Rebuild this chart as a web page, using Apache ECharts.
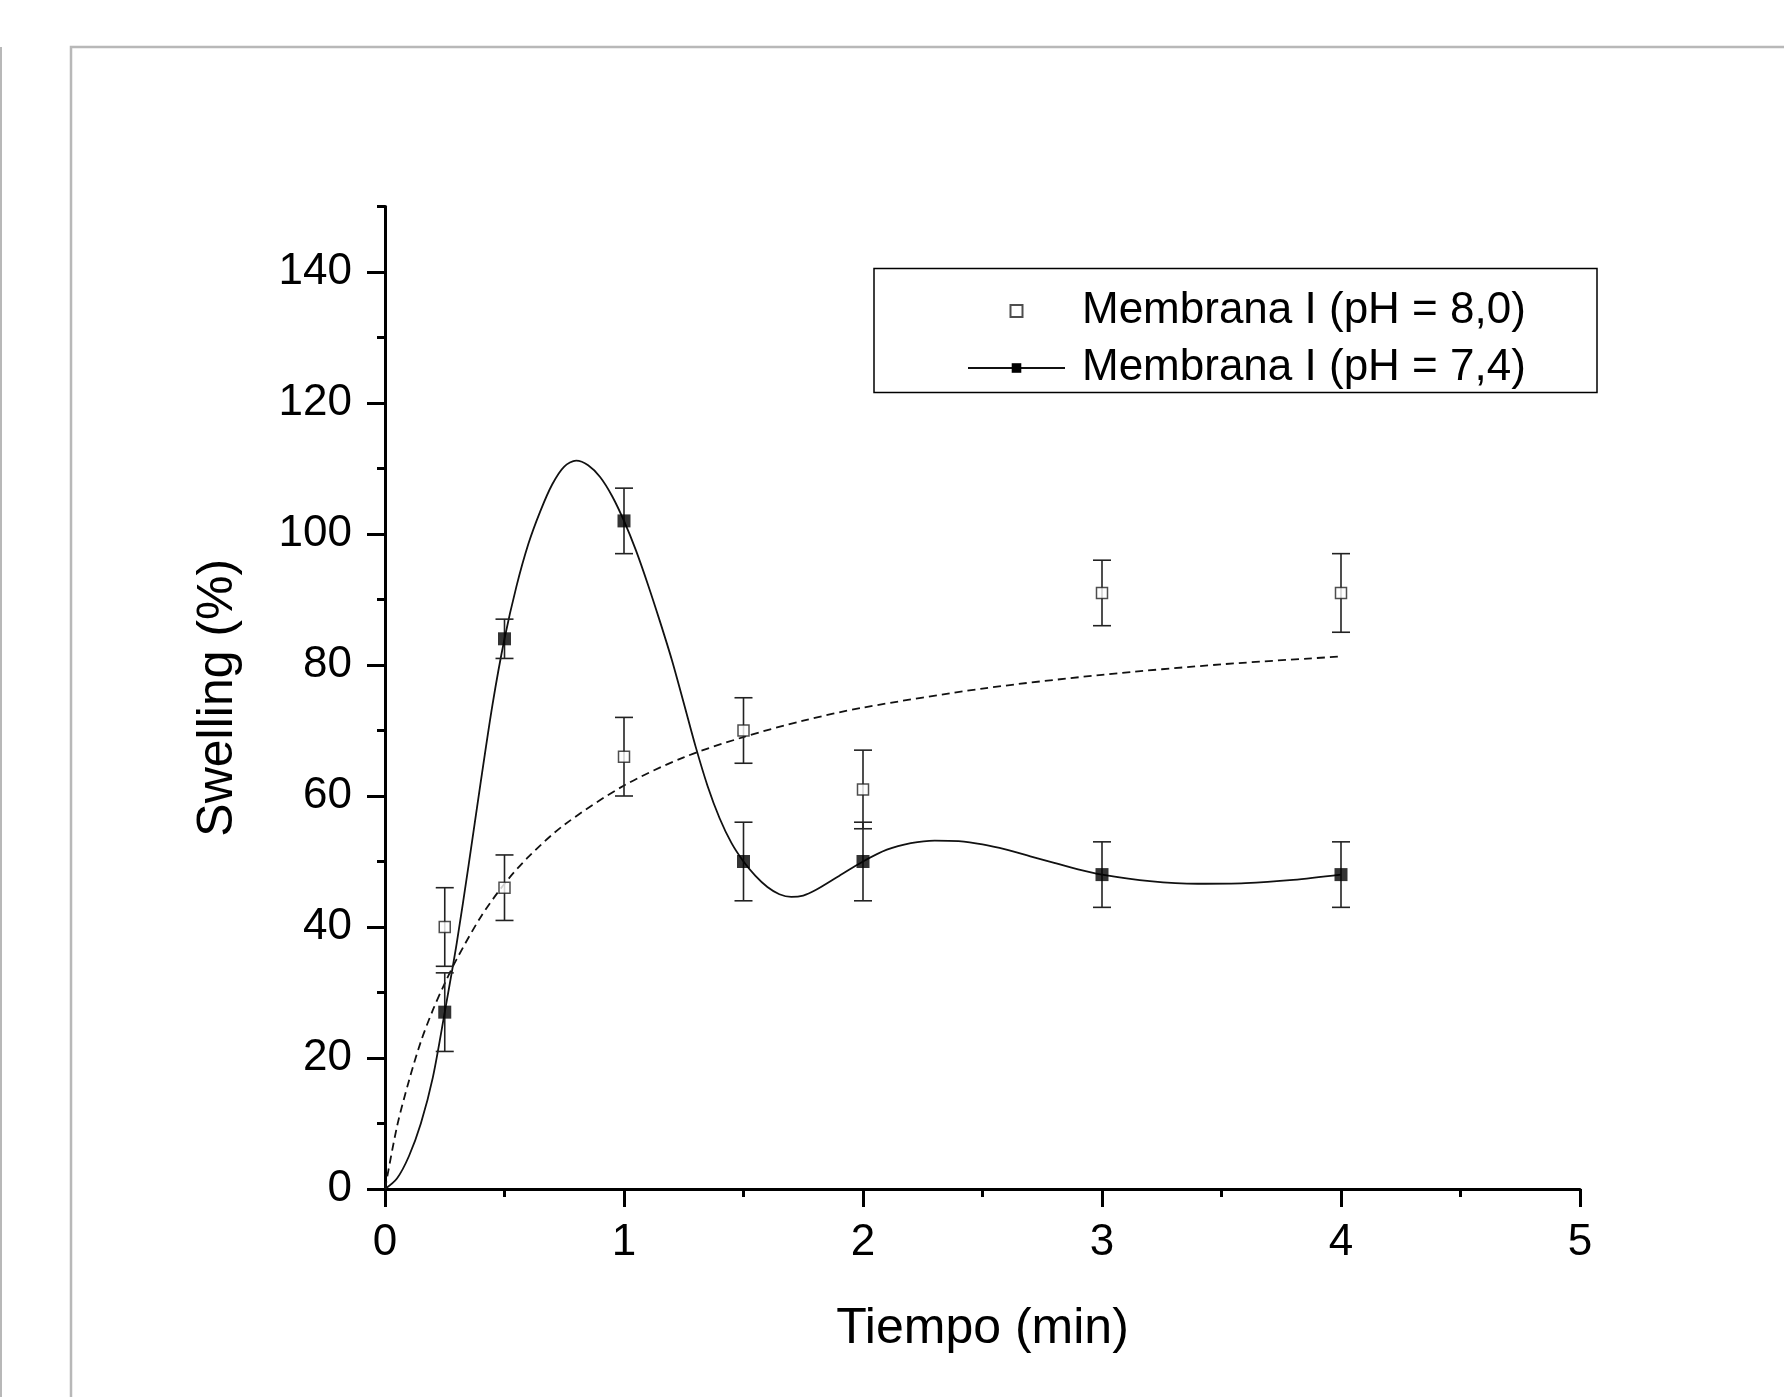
<!DOCTYPE html>
<html>
<head>
<meta charset="utf-8">
<script src="https://cdn.jsdelivr.net/npm/echarts@6/dist/echarts.min.js"></script>
<style>
html,body{margin:0;padding:0;background:#fff;}
#chart{width:1784px;height:1397px;}
</style>
</head>
<body>
<div id="chart"></div>
<script>
// ---- data ----
const timeX   = [0.25, 0.5, 1, 1.5, 2, 3, 4];
const swell80 = [40, 46, 66, 70, 61, 91, 91];
const err80   = [6, 5, 6, 5, 6, 5, 6];
const swell74 = [27, 84, 102, 50, 50, 48, 48];
const err74   = [6, 3, 5, 6, 6, 5, 5];

// fitted curve (dashed) for pH 8,0
const fit80X = [0, 0.05, 0.1, 0.15, 0.2, 0.25, 0.3, 0.4, 0.5, 0.6, 0.75, 1, 1.25, 1.5, 1.75, 2, 2.5, 3, 3.5, 4];
const fit80Y = [0, 9.5, 16.5, 22.5, 27.3, 31.4, 35.1, 41.5, 46.6, 50.7, 55.6, 61.6, 65.9, 69.0, 71.5, 73.5, 76.4, 78.5, 80.1, 81.3];

// spline curve (solid) for pH 7,4
const fit74X = [0,0.05,0.1,0.15,0.2,0.25,0.3,0.35,0.4,0.45,0.5,0.55,0.6,0.65,0.7,0.75,0.8,0.85,0.9,0.95,1.0,1.05,1.1,1.15,1.2,1.25,1.3,1.35,1.4,1.45,1.5,1.55,1.6,1.65,1.7,1.75,1.8,1.9,2.0,2.1,2.2,2.3,2.4,2.5,2.6,2.7,2.8,2.9,3.0,3.2,3.4,3.6,3.8,4.0];
const fit74Y = [0,1.6,5,10,17,27,37.5,49.5,62,74,84,92,98.5,103.5,107.6,110.3,111.2,110.5,108.7,105.8,102,97.5,92.3,86.7,80.8,74.2,67.5,61.5,56.6,52.8,50,47.8,46.1,45,44.6,44.8,45.6,47.8,50,51.8,52.8,53.2,53.1,52.6,51.8,50.8,49.8,48.8,48,47,46.6,46.7,47.2,48];

const xTicks = [0, 1, 2, 3, 4, 5];
const yTickLabels = [0, 20, 40, 60, 80, 100, 120, 140];

const name80 = 'Membrana I (pH = 8,0)';
const name74 = 'Membrana I (pH = 7,4)';
const FONT = "'Liberation Sans', Arial, Helvetica, sans-serif";

const chart = echarts.init(document.getElementById('chart'), null, {renderer: 'canvas'});

function zip(a, b) { return a.map((v, i) => [v, b[i]]); }
function errData(x, y, e) { return x.map((v, i) => [v, y[i] - e[i], y[i] + e[i]]); }

function errRender(params, api) {
  const x = api.value(0);
  const lo = api.coord([x, api.value(1)]);
  const hi = api.coord([x, api.value(2)]);
  const w = 9;
  const style = {stroke: '#222', lineWidth: 1.6};
  return {
    type: 'group',
    children: [
      {type: 'line', shape: {x1: lo[0], y1: lo[1], x2: hi[0], y2: hi[1]}, style},
      {type: 'line', shape: {x1: hi[0] - w, y1: hi[1], x2: hi[0] + w, y2: hi[1]}, style},
      {type: 'line', shape: {x1: lo[0] - w, y1: lo[1], x2: lo[0] + w, y2: lo[1]}, style}
    ]
  };
}

const axisLineStyle = {color: '#000', width: 3};

const option = {
  animation: false,
  backgroundColor: '#fff',
  textStyle: {fontFamily: FONT},
  graphic: [
    {type: 'rect', silent: true, z: -10,
     shape: {x: 71, y: 47, width: 3000, height: 3000},
     style: {fill: 'none', stroke: '#b8b8b8', lineWidth: 2.5}},
    {type: 'line', silent: true, z: -10,
     shape: {x1: 1, y1: 47, x2: 1, y2: 1397},
     style: {stroke: '#b8b8b8', lineWidth: 2}},
    {type: 'rect', silent: true, z: 5,
     shape: {x: 874, y: 268.5, width: 723, height: 124},
     style: {fill: 'none', stroke: '#000', lineWidth: 1.5}}
  ],
  legend: {
    data: [
      {name: name80, icon: 'path://M0,0L10,0L10,10L0,10Z'},
      {name: name74}
    ],
    orient: 'vertical',
    left: 967,
    top: 289,
    padding: 0,
    itemWidth: 97,
    itemHeight: 12,
    itemGap: 13,
    itemTextGap: 17,
    symbolKeepAspect: true,
    selectedMode: false,
    textStyle: {fontSize: 44, color: '#000', fontFamily: FONT, padding: [0, 0, 0, 12]}
  },
  grid: [
    {left: 385, right: 204, top: 206.5, bottom: 208},
    {left: 385, right: 204, top: 272, bottom: 208}
  ],
  xAxis: [
    {
      type: 'value', gridIndex: 0, min: 0, max: 5, interval: 1,
      name: 'Tiempo (min)', nameLocation: 'middle', nameGap: 115,
      nameTextStyle: {fontSize: 50, color: '#000', fontFamily: FONT},
      axisLine: {show: true, onZero: false, lineStyle: axisLineStyle},
      axisTick: {show: true, length: 18, lineStyle: {color: '#000', width: 3}},
      minorTick: {show: true, splitNumber: 2, length: 8, lineStyle: {color: '#000', width: 3}},
      axisLabel: {fontSize: 44, color: '#000', margin: 32, fontFamily: FONT,
                  formatter: v => xTicks.includes(v) ? String(v) : ''},
      splitLine: {show: false}
    },
    {type: 'value', gridIndex: 1, min: 0, max: 5, show: false}
  ],
  yAxis: [
    {
      type: 'value', gridIndex: 0, min: 0, max: 150, interval: 10,
      name: 'Swelling (%)', nameLocation: 'middle', nameGap: 142,
      nameTextStyle: {fontSize: 50, color: '#000', fontFamily: FONT},
      axisLine: {show: true, onZero: false, lineStyle: axisLineStyle},
      axisTick: {show: true, length: 8, lineStyle: {color: '#000', width: 3}},
      axisLabel: {show: false},
      splitLine: {show: false}
    },
    {
      type: 'value', gridIndex: 1, min: 0, max: 140, interval: 20,
      axisLine: {show: false},
      axisTick: {show: true, length: 18, lineStyle: {color: '#000', width: 3}},
      axisLabel: {fontSize: 44, color: '#000', margin: 33, fontFamily: FONT,
                  formatter: v => yTickLabels.includes(v) ? String(v) : ''},
      splitLine: {show: false}
    }
  ],
  series: [
    {
      name: 'fit80', type: 'line', xAxisIndex: 0, yAxisIndex: 0,
      data: zip(fit80X, fit80Y), smooth: 0.3, showSymbol: false, symbol: 'none',
      lineStyle: {color: '#111', width: 1.8, type: [8, 5]}, z: 2, silent: true
    },
    {
      name: name74, type: 'line', xAxisIndex: 0, yAxisIndex: 0,
      data: zip(fit74X, fit74Y), smooth: 0.3, showSymbol: false, symbol: 'rect', symbolSize: 13,
      itemStyle: {color: '#000'},
      lineStyle: {color: '#111', width: 1.8}, z: 2, silent: true
    },
    {
      name: 'err80', type: 'custom', xAxisIndex: 0, yAxisIndex: 0,
      data: errData(timeX, swell80, err80), renderItem: errRender, z: 3, silent: true
    },
    {
      name: 'err74', type: 'custom', xAxisIndex: 0, yAxisIndex: 0,
      data: errData(timeX, swell74, err74), renderItem: errRender, z: 3, silent: true
    },
    {
      name: name80, type: 'scatter', xAxisIndex: 0, yAxisIndex: 0,
      data: zip(timeX, swell80), symbol: 'rect', symbolSize: 11,
      itemStyle: {color: '#fff', borderColor: '#222', borderWidth: 1.5}, z: 4
    },
    {
      name: 'pts74', type: 'scatter', xAxisIndex: 0, yAxisIndex: 0,
      data: zip(timeX, swell74), symbol: 'rect', symbolSize: 13,
      itemStyle: {color: '#000'}, z: 4
    }
  ]
};

chart.setOption(option);
</script>
</body>
</html>
